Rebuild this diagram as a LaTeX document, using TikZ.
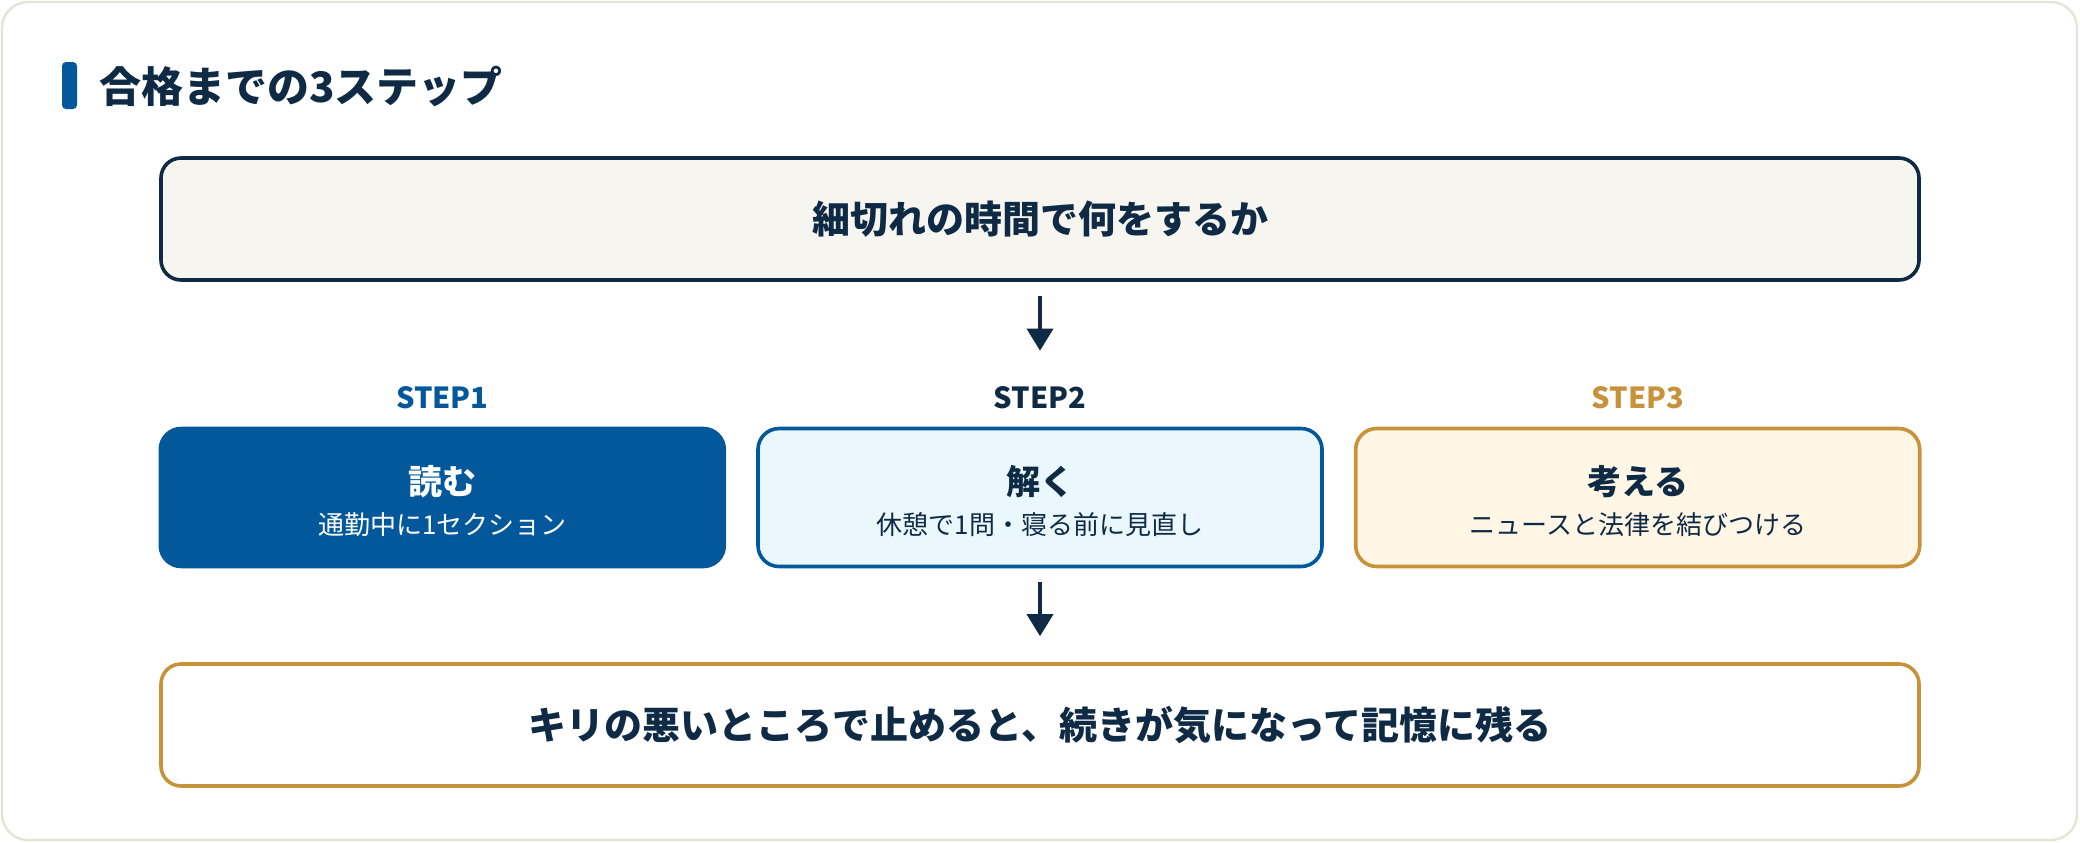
\documentclass[tikz,border=0pt]{standalone}
\usepackage{fontspec}
\setmainfont{Noto Sans CJK JP}
\usetikzlibrary{arrows.meta}
\definecolor{navy}{HTML}{0F2A45}
\definecolor{mblue}{HTML}{03589C}
\definecolor{gold}{HTML}{C8923A}
\definecolor{framec}{HTML}{E6E3D8}
\definecolor{topfill}{HTML}{F6F5F0}
\definecolor{bluefill}{HTML}{EAF8FD}
\definecolor{creamfill}{HTML}{FFF6E6}
\tikzset{
  mainbox/.style={rectangle, rounded corners=10pt, line width=1.8pt, minimum width=879pt, minimum height=61pt, inner sep=0pt, text=navy, font=\fontsize{19}{23}\bfseries},
  stepbox/.style={rectangle, rounded corners=10.5pt, line width=1.8pt, minimum width=282pt, minimum height=69pt, inner sep=0pt},
  steplbl/.style={inner sep=0pt, font=\fontsize{14.5}{18}\bfseries},
  boxtitle/.style={inner sep=0pt, font=\fontsize{17}{20}\bfseries},
  boxsub/.style={inner sep=0pt, font=\fontsize{13}{16}\selectfont},
  arr/.style={draw=navy, line width=1.75pt, -{Triangle[width=13pt,length=11pt]}}
}
\begin{document}
\begin{tikzpicture}[x=0.5pt,y=-0.5pt]
\useasboundingbox (0,0) rectangle (2080,842);
\fill[white] (0,0) rectangle (2080,842);
\draw[framec, line width=1.2pt, fill=white, rounded corners=13pt] (2,2) rectangle (2077,840);
% title
\fill[mblue, rounded corners=2pt] (62,62) rectangle (77,109);
\node[anchor=west, inner sep=0pt, text=navy, font=\fontsize{21}{25}\bfseries] (title) at (99,86) {合格までの3ステップ};
% top box
\node[mainbox, draw=navy, fill=topfill] (top) at (1040,219) {細切れの時間で何をするか};
% step labels
\node[steplbl, text=mblue] (l1) at (442.3,398) {STEP1};
\node[steplbl, text=navy] (l2) at (1040,398) {STEP2};
\node[steplbl, text=gold] (l3) at (1637.7,398) {STEP3};
% step boxes
\node[stepbox, draw=mblue, fill=mblue] (b1) at (442.3,497.5) {};
\node[stepbox, draw=mblue, fill=bluefill] (b2) at (1040,497.5) {};
\node[stepbox, draw=gold, fill=creamfill] (b3) at (1637.7,497.5) {};
\node[boxtitle, text=white] (b1t) at (442.3,482) {読む};
\node[boxsub, text=white] (b1s) at (442.3,525) {通勤中に1セクション};
\node[boxtitle, text=navy] (b2t) at (1040,482) {解く};
\node[boxsub, text=navy] (b2s) at (1040,525) {休憩で1問・寝る前に見直し};
\node[boxtitle, text=navy] (b3t) at (1637.7,482) {考える};
\node[boxsub, text=navy] (b3s) at (1637.7,525) {ニュースと法律を結びつける};
% bottom box
\node[mainbox, draw=gold, fill=white] (bot) at (1040,725) {キリの悪いところで止めると、続きが気になって記憶に残る};
% arrows
\draw[arr, shorten <=7pt, shorten >=38pt] (top.south) -- (b2.north);
\draw[arr, shorten <=7pt, shorten >=13pt] (b2.south) -- (bot.north);
\end{tikzpicture}
\end{document}
